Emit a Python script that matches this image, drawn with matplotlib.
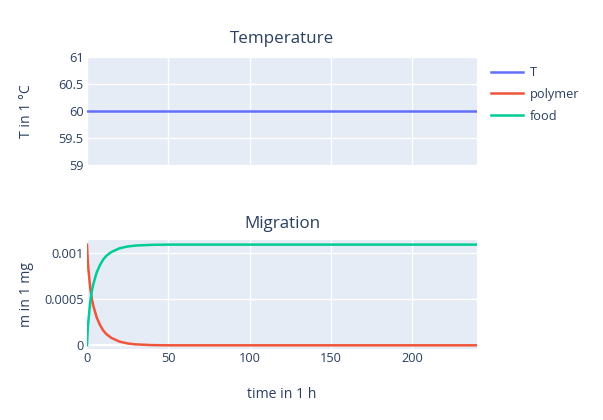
import matplotlib
matplotlib.use("Agg")
import matplotlib.pyplot as plt
from matplotlib.lines import Line2D

plt.rcParams['font.family'] = ['Open Sans', 'DejaVu Sans']

# --- data ---
temp_time = [0, 240]
temp_T = [60, 60]

time_h = [0, 0.5, 1, 2, 3, 4, 5, 6, 8, 10, 12, 15, 20, 25, 30, 40, 50, 100, 150, 200, 240]
polymer = [0.00109, 0.00090, 0.00080, 0.00062, 0.00050, 0.00042, 0.00036, 0.00030,
           0.00022, 0.00016, 0.00012, 0.00008, 0.00004, 0.00002, 0.00001, 0.000002,
           0.0, 0.0, 0.0, 0.0, 0.0]
food = [0.0, 0.00019, 0.00029, 0.00047, 0.00059, 0.00067, 0.00073, 0.00079,
        0.00087, 0.00093, 0.00097, 0.00101, 0.00105, 0.00107, 0.00108, 0.001088,
        0.00109, 0.00109, 0.00109, 0.00109, 0.00109]

series_names = ['T', 'polymer', 'food']
colors = ['#636efa', '#EF553B', '#00cc96']

BG = '#E5ECF6'
TXT = '#2a3f5f'
W, H = 603, 420
px = 72 / 100  # px -> pt at dpi 100
TICK = 12.8 * px
LW = 1.8

fig = plt.figure(figsize=(W / 100, H / 100), dpi=100)

def axes_px(left, top, right, bottom):
    return fig.add_axes([left / W, 1 - bottom / H, (right - left) / W, (bottom - top) / H])

ax1 = axes_px(87, 57, 477, 165)
ax2 = axes_px(87, 240, 477, 349)

for ax in (ax1, ax2):
    ax.set_facecolor(BG)
    for s in ax.spines.values():
        s.set_visible(False)
    ax.grid(True, color='white', linewidth=1)
    ax.set_axisbelow(True)
    ax.tick_params(length=0, labelsize=TICK, colors=TXT, pad=2.5)
    ax.set_xlim(0, 240)
    ax.set_xticks([0, 50, 100, 150, 200])

# Temperature
ax1.plot(temp_time, temp_T, color=colors[0], linewidth=LW)
ax1.set_ylim(59, 61)
ax1.set_yticks([59, 59.5, 60, 60.5, 61])
ax1.set_yticklabels(['59', '59.5', '60', '60.5', '61'])
ax1.tick_params(labelbottom=False)
ax1.set_ylabel('T in 1 °C', fontsize=14 * px, color=TXT)
ax1.yaxis.set_label_coords(-53 / 390, 0.5)

# Migration
ax2.axhline(0, color='white', linewidth=2 * px, zorder=1)
ax2.axvline(0, color='white', linewidth=2 * px, zorder=1)
ax2.plot(time_h, polymer, color=colors[1], linewidth=LW)
ax2.plot(time_h, food, color=colors[2], linewidth=LW)
ax2.set_ylim(-0.00004, 0.00114)
ax2.set_yticks([0, 0.0005, 0.001])
ax2.set_yticklabels(['0', '0.0005', '0.001'])
ax2.set_ylabel('m in 1 mg', fontsize=14 * px, color=TXT)
ax2.yaxis.set_label_coords(-53 / 390, 0.5)

fig.text(282 / W, 1 - 39 / H, 'Temperature', ha='center', va='center',
         fontsize=17 * px, color=TXT)
fig.text(282 / W, 1 - 224 / H, 'Migration', ha='center', va='center',
         fontsize=17 * px, color=TXT)
fig.text(282 / W, 1 - 395 / H, 'time in 1 h', ha='center', va='center',
         fontsize=14 * px, color=TXT)

handles = [Line2D([], [], color=c, linewidth=LW) for c in colors]
leg = fig.legend(handles, series_names, loc='upper left',
                 bbox_to_anchor=(491 / W, 1 - 66 / H), frameon=False,
                 fontsize=TICK, handlelength=2.5, handletextpad=0.55,
                 labelspacing=0.7, borderaxespad=0, borderpad=0)
for t in leg.get_texts():
    t.set_color(TXT)

fig.savefig('out.png', dpi=100)
